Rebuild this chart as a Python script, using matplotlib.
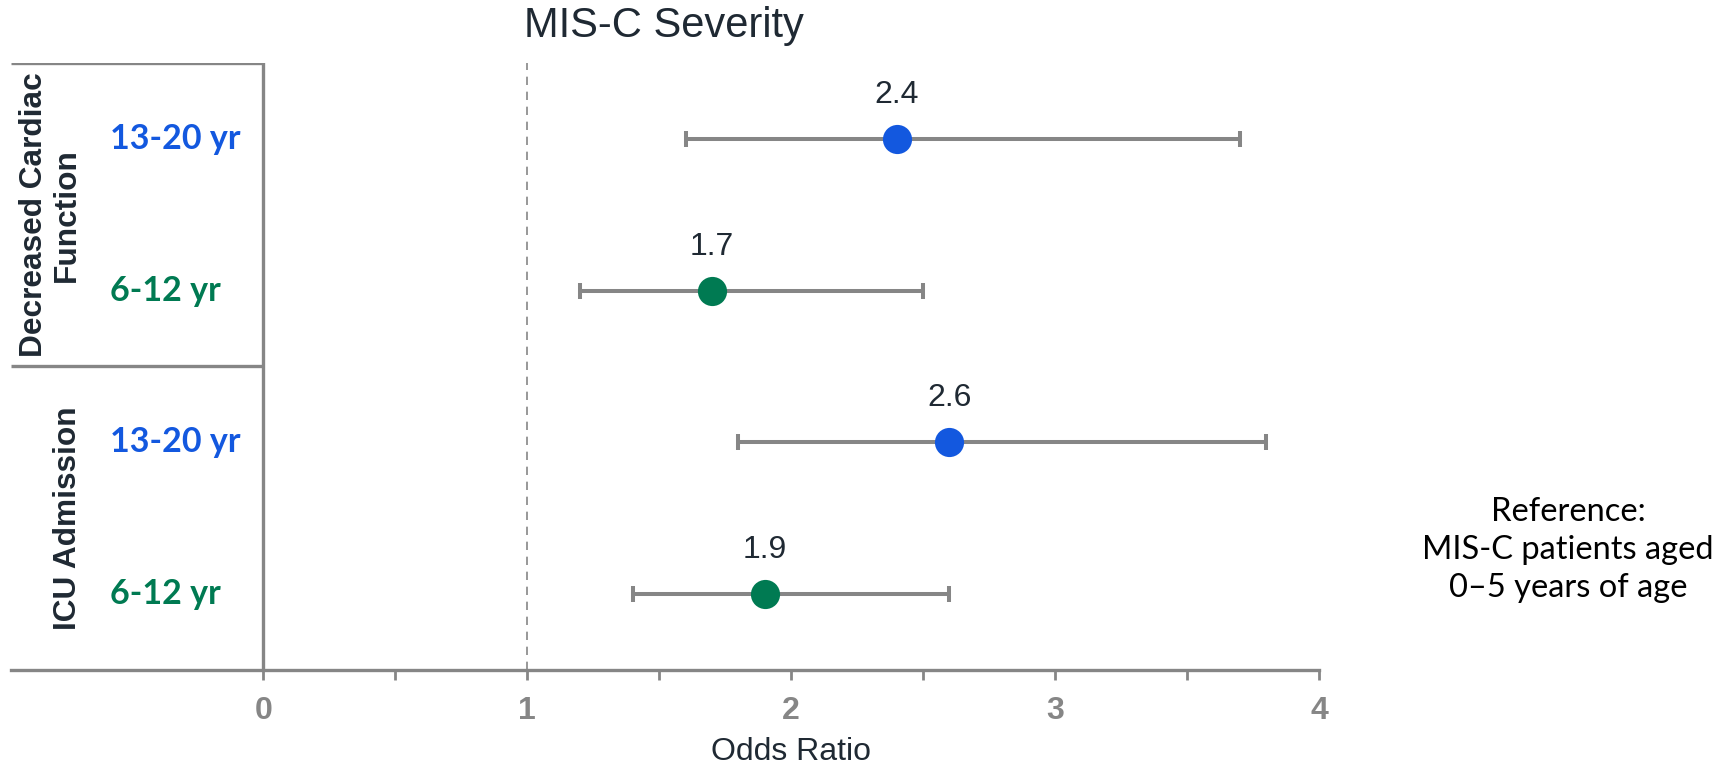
import matplotlib
matplotlib.use("Agg")
import matplotlib.pyplot as plt
from matplotlib import font_manager

names = {f.name for f in font_manager.fontManager.ttflist}
narrow = "Liberation Sans Narrow" if "Liberation Sans Narrow" in names else "Liberation Sans"

groups = ["Decreased Cardiac\nFunction", "ICU Admission"]
ages = ["13-20 yr", "6-12 yr", "13-20 yr", "6-12 yr"]
odds = [2.4, 1.7, 2.6, 1.9]
ci_low = [1.6, 1.2, 1.8, 1.4]
ci_high = [3.7, 2.5, 3.8, 2.6]
xticks = [0, 1, 2, 3, 4]

blue = "#1358df"
green = "#007a52"
grey = "#868686"
dark = "#1f2933"
colors = [blue, green, blue, green]
ypos = [3.5, 2.5, 1.5, 0.5]

fig = plt.figure(figsize=(17.21, 7.66), dpi=100)
ax = fig.add_axes([0.0064, 0.1253, 0.7600, 0.7925])
left = -0.956
ax.set_xlim(left, 4)
ax.set_ylim(0, 4)

for s in ["top", "right", "left"]:
    ax.spines[s].set_visible(False)
ax.spines["bottom"].set_color(grey)
ax.spines["bottom"].set_linewidth(2.4)

# table frame on the left
ax.axvline(0, color=grey, lw=2.4)
ax.hlines([4, 2], left, 0, color=grey, lw=2.4)
ax.axvline(1, color=grey, lw=1.2, ls=(0, (5, 4)))

for i in range(len(odds)):
    ax.errorbar(odds[i], ypos[i],
                xerr=[[odds[i] - ci_low[i]], [ci_high[i] - odds[i]]],
                fmt="none", ecolor=grey, elinewidth=2.9, capsize=5.5, capthick=2.9, zorder=2)
    ax.plot(odds[i], ypos[i], "o", ms=21, color=colors[i], mec="none", zorder=3)
    ax.text(odds[i], ypos[i] + 0.29, f"{odds[i]:.1f}", ha="center", va="center",
            fontsize=23, color=dark, family="Liberation Sans")
    ax.text(-0.582, ypos[i], ages[i], ha="left", va="center", fontsize=24.5,
            fontweight="bold", color=colors[i], family="Lato")

ax.text(-0.807, 3.0, groups[0], rotation=90, ha="center", va="center",
        fontsize=22.8, fontweight="bold", color=dark, family="Liberation Sans",
        linespacing=1.15)
ax.text(-0.74, 1.0, groups[1], rotation=90, ha="center", va="center",
        fontsize=22.8, fontweight="bold", color=dark, family="Liberation Sans")

ax.set_xticks(xticks)
ax.set_xticklabels([str(t) for t in xticks], fontsize=23, fontweight="bold",
                   color=grey, family=narrow)
ax.set_xticks([0.5, 1.5, 2.5, 3.5], minor=True)
ax.tick_params(axis="x", which="both", length=7, width=2, color=grey, pad=12)
ax.set_yticks([])
ax.text(2, -0.54, "Odds Ratio", ha="center", va="center", fontsize=23,
        color=dark, family=narrow)

fig.text(664 / 1721, 1 - 26 / 766, "MIS-C Severity", ha="center", va="center",
         fontsize=30, color=dark, family=narrow)

fig.text(1568 / 1721, 1 - 550 / 766,
         "Reference:\nMIS-C patients aged\n0\u20135 years of age",
         ha="center", va="center", fontsize=23.5, color="black", family="Lato",
         linespacing=1.32)

fig.savefig("out.png", dpi=100)
